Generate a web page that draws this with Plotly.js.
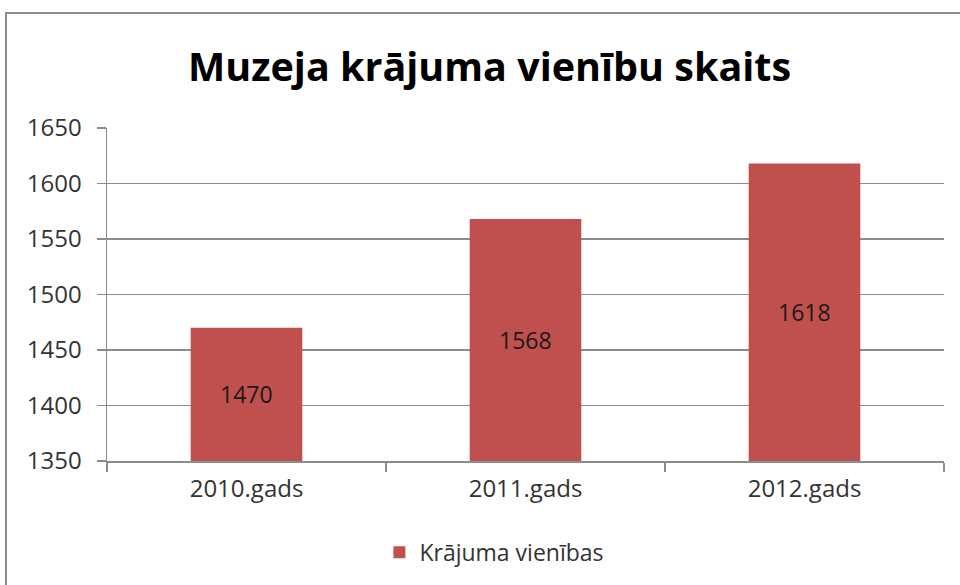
<!DOCTYPE html>
<html>
<head>
<meta charset="utf-8">
<script src="https://cdn.plot.ly/plotly-3.0.1.min.js"></script>
<style>
  html, body { margin: 0; padding: 0; background: #fff; }
  #wrap { position: relative; width: 960px; height: 585px; overflow: hidden; }
  #chart { position: absolute; left: 0; top: 0; width: 960px; height: 585px; }
  #frame { position: absolute; left: 5px; top: 12px; width: 1000px; height: 1000px;
           border: 2px solid #8c8c8c; box-sizing: border-box; pointer-events: none; }
</style>
</head>
<body>
<div id="wrap">
  <div id="chart"></div>
  <div id="frame"></div>
</div>
<script>
const categories = ["2010.gads", "2011.gads", "2012.gads"];
const values = [1470, 1568, 1618];
const seriesName = "Krājuma vienības";
const titleText = "Muzeja krājuma vienību skaits";
const yTicks = [1350, 1400, 1450, 1500, 1550, 1600, 1650];
const yRange = [1350, 1650];

const FONT = "Open Sans, Noto Sans, sans-serif";

const trace = {
  type: "bar",
  x: categories,
  y: values,
  name: seriesName,
  marker: { color: "#C0504D", line: { width: 0 } },
  hoverinfo: "x+y"
};

// data labels centred in the visible part of each bar
const annotations = categories.map((c, i) => ({
  x: c, xref: "x",
  y: (yRange[0] + values[i]) / 2, yref: "y",
  text: String(values[i]),
  showarrow: false,
  font: { family: FONT, size: 23, color: "#1a1a1a" },
  xanchor: "center", yanchor: "middle"
}));

const layout = {
  width: 960,
  height: 585,
  margin: { l: 107, r: 16, t: 128, b: 124 },
  paper_bgcolor: "#ffffff",
  plot_bgcolor: "#ffffff",
  font: { family: FONT, size: 24, color: "#333333" },
  title: {
    text: "<b>" + titleText + "</b>",
    font: { family: FONT, size: 39.5, color: "#000000" },
    x: 0.51, xref: "container", xanchor: "center",
    y: 0.885, yref: "container", yanchor: "middle"
  },
  bargap: 0.6,
  showlegend: true,
  legend: {
    orientation: "h",
    x: 0.515, xref: "container", xanchor: "center",
    y: 0.056, yref: "container", yanchor: "middle",
    font: { family: FONT, size: 23, color: "#333333" },
    itemwidth: 30
  },
  annotations: annotations,
  xaxis: {
    type: "category",
    showline: true, linecolor: "#8c8c8c", linewidth: 1.5,
    ticks: "outside", tickson: "boundaries", ticklen: 9, tickcolor: "#8c8c8c", tickwidth: 1.5,
    showgrid: false,
    tickfont: { family: FONT, size: 24, color: "#333333" },
    ticklabelstandoff: 6
  },
  yaxis: {
    range: yRange,
    tickvals: yTicks,
    ticktext: yTicks.map(String),
    showline: true, linecolor: "#8c8c8c", linewidth: 1.5,
    ticks: "outside", ticklen: 9, tickcolor: "#8c8c8c", tickwidth: 1.5,
    showgrid: true, gridcolor: "#8c8c8c", gridwidth: 1.5,
    zeroline: false,
    tickfont: { family: FONT, size: 24, color: "#333333" },
    ticklabelstandoff: 10
  }
};

Plotly.newPlot("chart", [trace], layout, { displayModeBar: false, staticPlot: true });
</script>
</body>
</html>
